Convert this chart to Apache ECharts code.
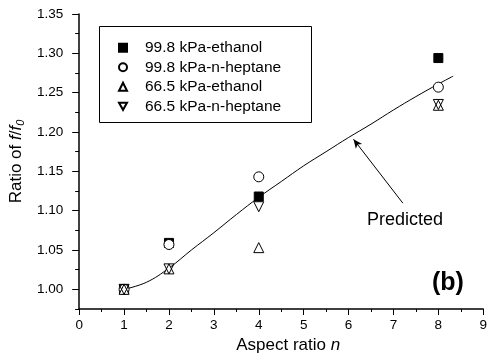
<!DOCTYPE html>
<html>
<head>
<meta charset="utf-8">
<script src="https://cdn.jsdelivr.net/npm/echarts@6/dist/echarts.min.js"></script>
<style>html,body{margin:0;padding:0;background:#fff}#c{width:490px;height:359px}</style>
</head>
<body>
<div id="c"></div>
<script>
// ---- data ----
const aspectN = [1, 2, 4, 8];
const eth998 = [1.000, 1.059, 1.118, 1.294];
const hep998 = [1.000, 1.057, 1.143, 1.257];
const eth665 = [1.000, 1.026, 1.053, 1.234];
const hep665 = [1.000, 1.026, 1.105, 1.235];
const predN   = [1, 1.5, 2, 2.5, 3, 3.5, 4, 4.5, 5, 5.5, 6, 6.5, 7, 7.5, 8, 8.33];
const predVal = [1.000, 1.009, 1.027, 1.050, 1.072, 1.095, 1.117, 1.137, 1.157, 1.175, 1.193, 1.210, 1.228, 1.245, 1.261, 1.271];
const yMajorTicks = [1.00, 1.05, 1.10, 1.15, 1.20, 1.25, 1.30, 1.35];
const yMinorTicks = [0.975, 1.025, 1.075, 1.125, 1.175, 1.225, 1.275, 1.325];
const seriesNames = ['99.8 kPa-ethanol', '99.8 kPa-n-heptane', '66.5 kPa-ethanol', '66.5 kPa-n-heptane'];
const arrowFrom = [7.21, 1.1095];
const arrowTo = [6.11, 1.1908];

const FONT = 'Liberation Sans, Arial, sans-serif';
const pairs = (xs, ys) => xs.map((x, i) => [x, ys[i]]);

const chart = echarts.init(document.getElementById('c'), null, {renderer: 'canvas'});
const markerStyle = {color: '#fff', borderColor: '#000', borderWidth: 1, opacity: 1};

chart.setOption({
  animation: false,
  backgroundColor: '#fff',
  grid: {left: 79, right: 2, top: 14, bottom: 45},
  legend: {
    orient: 'vertical', left: 113, top: 33,
    itemWidth: 8, itemHeight: 8, itemGap: 0,
    data: seriesNames,
    textStyle: {fontFamily: FONT, fontSize: 15.5, color: '#000', lineHeight: 19.5, padding: [0, 0, 0, 13]}
  },
  xAxis: {
    type: 'value', min: 0, max: 9, interval: 1,
    name: 'Aspect ratio {i|n}', nameLocation: 'middle', nameGap: 28,
    nameTextStyle: {fontFamily: FONT, fontSize: 17, color: '#000', padding: [0, 0, 0, 14],
      rich: {i: {fontFamily: FONT, fontSize: 17, fontStyle: 'italic', color: '#000'}}},
    axisLine: {lineStyle: {color: '#000', width: 1.5}},
    axisTick: {length: 6, lineStyle: {color: '#000', width: 1}},
    minorTick: {show: true, splitNumber: 2, length: 3, lineStyle: {color: '#000', width: 1}},
    axisLabel: {fontFamily: FONT, fontSize: 13.5, color: '#000', margin: 9},
    splitLine: {show: false}
  },
  yAxis: [{
    type: 'value', min: 0.975, max: 1.35,
    name: 'Ratio of {i|f}/{i|f}{s|0}', nameLocation: 'middle', nameGap: 50, nameRotate: 90,
    nameTextStyle: {fontFamily: FONT, fontSize: 17, color: '#000',
      rich: {i: {fontFamily: FONT, fontSize: 17, fontStyle: 'italic', color: '#000'},
             s: {fontFamily: FONT, fontSize: 11, fontStyle: 'italic', color: '#000', verticalAlign: 'bottom', padding: [8, 0, 0, 0]}}},
    axisLine: {show: true, lineStyle: {color: '#000', width: 1.5}},
    axisTick: {show: true, length: 7, customValues: yMajorTicks, lineStyle: {color: '#000', width: 1}},
    axisLabel: {fontFamily: FONT, fontSize: 13.5, color: '#000', margin: 16, customValues: yMajorTicks,
      formatter: v => v.toFixed(2)},
    splitLine: {show: false}
  }, {
    type: 'value', min: 0.975, max: 1.35, position: 'left',
    axisLine: {show: false},
    axisTick: {show: true, length: 4, customValues: yMinorTicks, lineStyle: {color: '#000', width: 1}},
    axisLabel: {show: false},
    splitLine: {show: false}
  }],
  series: [
    {name: 'Predicted', type: 'line', data: pairs(predN, predVal), smooth: 0.4, showSymbol: false,
     lineStyle: {color: '#000', width: 1}, z: 1, silent: true,
     markLine: {silent: true, symbol: ['none', 'arrow'], symbolSize: [6, 9], label: {show: false},
       lineStyle: {color: '#000', width: 1, type: 'solid'},
       data: [[{coord: arrowFrom}, {coord: arrowTo}]]}},
    {name: seriesNames[0], type: 'scatter', data: pairs(aspectN, eth998), symbol: 'rect', symbolSize: 9,
     itemStyle: {color: '#000', borderColor: '#000', borderWidth: 1, opacity: 1}, z: 3},
    {name: seriesNames[1], type: 'scatter', data: pairs(aspectN, hep998), symbol: 'circle', symbolSize: 10,
     itemStyle: markerStyle, z: 4},
    {name: seriesNames[2], type: 'scatter', data: pairs(aspectN, eth665), symbol: 'triangle', symbolSize: 10,
     itemStyle: markerStyle, z: 5},
    {name: seriesNames[3], type: 'scatter', data: pairs(aspectN, hep665), symbol: 'path://M0,0L10,0L5,9Z', symbolSize: 10,
     itemStyle: {color: 'rgba(255,255,255,0)', borderColor: '#000', borderWidth: 1, opacity: 1}, z: 6}
  ],
  graphic: [
    {type: 'rect', left: 97, top: 24, shape: {width: 212, height: 96}, style: {fill: 'none', stroke: '#000', lineWidth: 1}, z: 0},
    {type: 'text', left: 367, top: 211, style: {text: 'Predicted', font: '18px ' + FONT, fill: '#000'}},
    {type: 'text', left: 432, top: 271, style: {text: '(b)', font: 'bold 25px ' + FONT, fill: '#000'}}
  ]
});
</script>
</body>
</html>
